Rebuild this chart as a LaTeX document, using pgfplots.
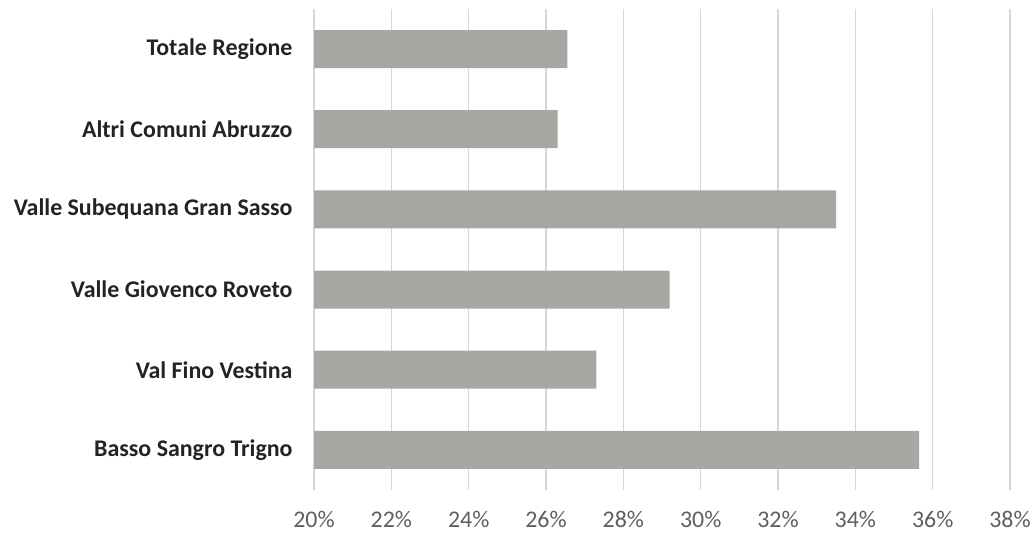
\documentclass[border=0pt]{standalone}
\usepackage{pgfplots}
\pgfplotsset{compat=1.18}
\usepackage{fontspec}
\setmainfont{Carlito}
\definecolor{bargray}{RGB}{166,168,164}
\definecolor{gridgray}{RGB}{214,214,214}
\definecolor{ticktext}{RGB}{95,95,95}
\definecolor{labeltext}{RGB}{35,35,35}
\begin{document}
\begin{tikzpicture}[x=1bp,y=1bp]
\path[use as bounding box] (0,0) rectangle (1034,538);
\begin{axis}[
  at={(314bp,48bp)}, anchor=south west,
  scale only axis, width=696bp, height=481bp,
  xmin=20, xmax=38, xtick={20,22,...,38},
  ymin=-0.5, ymax=5.5, ytick={0,...,5},
  yticklabels={Basso Sangro Trigno, Val Fino Vestina, Valle Giovenco Roveto,
    Valle Subequana Gran Sasso, Altri Comuni Abruzzo, Totale Regione},
  axis line style={draw=none},
  xmajorgrids, grid style={gridgray, line width=1.2bp},
  major tick length=0pt,
  /pgf/number format/assume math mode=true,
  xticklabel={\pgfmathprintnumber{\tick}\%},
  xticklabel style={font=\fontsize{24}{28}\selectfont, text=ticktext, yshift=-18bp},
  yticklabel style={font=\fontsize{24}{28}\selectfont\bfseries, text=labeltext, xshift=-18bp},
  clip=true,
]
\addplot[xbar, bar width=38bp, fill=bargray, draw=none]
  coordinates {(35.65,0) (27.3,1) (29.2,2) (33.5,3) (26.3,4) (26.55,5)};
\end{axis}
\end{tikzpicture}
\end{document}
